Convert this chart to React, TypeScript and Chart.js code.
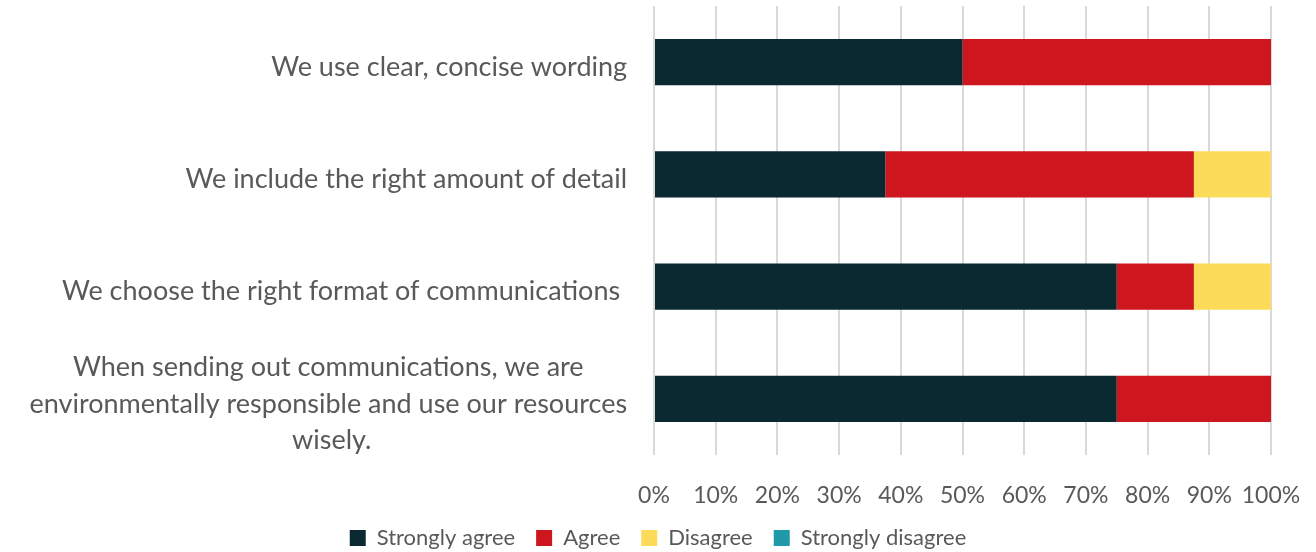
import React, { useEffect, useRef } from "react";
import { Chart, registerables } from "chart.js";
Chart.register(...registerables);

const categories: string[][] = [
  ["We use clear, concise wording "],
  ["We include the right amount of detail "],
  ["We choose the right format of communications  "],
  [
    "When sending out communications, we are ",
    "environmentally responsible and use our resources ",
    "wisely.",
  ],
];
const stronglyAgree = [50, 37.5, 75, 75];
const agree = [50, 50, 12.5, 25];
const disagree = [0, 12.5, 12.5, 0];
const stronglyDisagree = [0, 0, 0, 0];
const seriesNames = ["Strongly agree", "Agree", "Disagree", "Strongly disagree"];
const seriesColors = ["#0b2930", "#cd161e", "#fbdb59", "#2099ab"];

const FONT = "Lato, 'Open Sans', sans-serif";
const TEXT = "#595959";

const labelPlugin = {
  id: "catLabels",
  afterDraw(chart: any) {
    const ctx = chart.ctx;
    const y = chart.scales.y;
    const right = chart.chartArea.left - 20;
    ctx.save();
    ctx.font = `27px ${FONT}`;
    ctx.fillStyle = TEXT;
    ctx.textBaseline = "middle";
    ctx.textAlign = "left";
    const lh = 36.5;
    categories.forEach((lines, i) => {
      const cy = y.getPixelForValue(i) + 5;
      const maxW = Math.max(...lines.map((l) => ctx.measureText(l).width));
      const cx = right - maxW / 2;
      lines.forEach((l, j) => {
        const w = ctx.measureText(l).width;
        const ly = cy + (j - (lines.length - 1) / 2) * lh;
        ctx.fillText(l.trimEnd(), cx - w / 2, ly);
      });
    });
    ctx.restore();
  },
};

export default function App() {
  const ref = useRef<HTMLCanvasElement>(null);
  useEffect(() => {
    const data = [stronglyAgree, agree, disagree, stronglyDisagree];
    const chart = new Chart(ref.current!, {
      type: "bar",
      data: {
        labels: categories.map((c) => c.join(" ")),
        datasets: seriesNames.map((n, i) => ({
          label: n,
          data: data[i],
          backgroundColor: seriesColors[i],
          barPercentage: 0.41,
          categoryPercentage: 1,
        })),
      },
      options: {
        indexAxis: "y",
        animation: false,
        responsive: true,
        maintainAspectRatio: false,
        layout: { padding: { left: 0, right: 0, top: 6, bottom: -7 } },
        scales: {
          x: {
            stacked: true,
            min: 0,
            max: 100,
            ticks: {
              stepSize: 10,
              callback: (v: any) => v + "%",
              color: TEXT,
              font: { family: FONT, size: 23 },
              padding: 27,
              maxRotation: 0,
              minRotation: 0,
              autoSkip: false,
            },
            grid: { color: "#d9d9d9", lineWidth: 2, drawTicks: false },
            border: { display: false },
            afterFit: (s: any) => {
              s.height = 51;
              s.paddingRight = 45;
              s.paddingLeft = 0;
            },
          },
          y: {
            stacked: true,
            display: true,
            ticks: { display: false },
            grid: { display: false, drawTicks: false },
            border: { display: false },
            afterFit: (s: any) => {
              s.width = 654;
            },
          },
        },
        plugins: {
          legend: {
            position: "bottom",
            labels: {
              color: TEXT,
              font: { family: FONT, size: 22 },
              boxWidth: 16,
              boxHeight: 16,
              padding: 21,
            },
          },
          tooltip: { enabled: false },
        },
      },
      plugins: [labelPlugin],
    });
    return () => chart.destroy();
  }, []);
  return (
    <div style={{ position: "fixed", left: 0, top: 0, width: 1316, height: 552, background: "#fff" }}>
      <canvas ref={ref} />
    </div>
  );
}
